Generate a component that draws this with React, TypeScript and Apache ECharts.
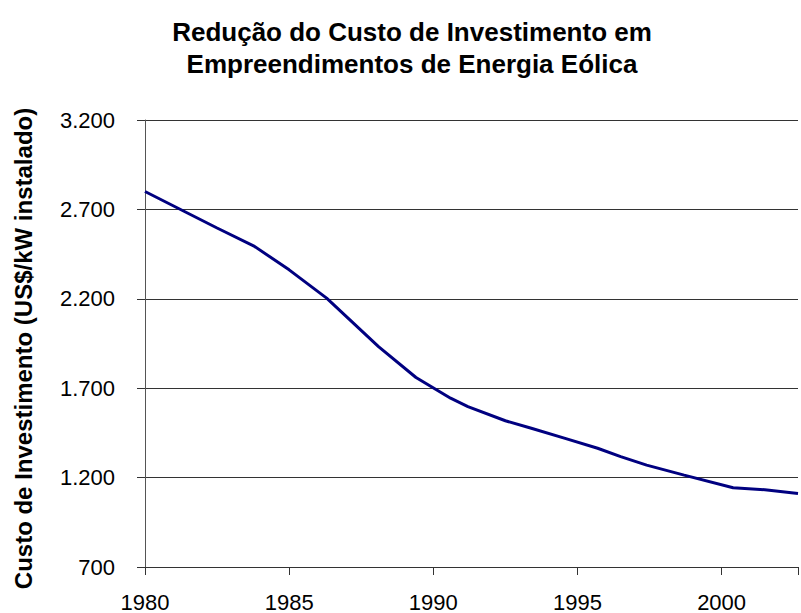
import React, { useEffect, useRef } from "react";
import * as echarts from "echarts";

const years = [1980, 1982.5, 1983.8, 1985, 1986.3, 1988.1, 1989.4, 1990.6, 1991.2, 1992.5, 1993.4, 1994.6, 1995.7, 1996.5, 1997.4, 1998.7, 2000.4, 2001.5, 2002.65];
const costs = [2800, 2596, 2493, 2362, 2204, 1933, 1760, 1644, 1597, 1518, 1476, 1418, 1364, 1317, 1270, 1214, 1143, 1132, 1111];
const yTicks = { min: 700, max: 3200, interval: 500 };
const xRange = { min: 1980, max: 2002.65, interval: 5 };
const titleText = "Redução do Custo de Investimento em\nEmpreendimentos de Energia Eólica";
const yAxisName = "Custo de Investimento (US$/kW instalado)";

const fmtThousands = (v: number) => {
  const s = String(Math.round(v));
  return s.replace(/\B(?=(\d{3})+(?!\d))/g, ".");
};

const FONT = "Liberation Sans, Arial, sans-serif";

export default function App() {
  const ref = useRef<HTMLDivElement>(null);
  useEffect(() => {
    if (!ref.current) return;
    const chart = echarts.init(ref.current, undefined, { renderer: "svg" });
    chart.setOption({
      animation: false,
      backgroundColor: "#fff",
      title: {
        text: titleText,
        left: 407,
        top: 11,
        textAlign: "center",
        textStyle: {
          fontFamily: FONT,
          fontWeight: "bold",
          fontSize: 26,
          lineHeight: 32,
          color: "#000",
        },
      },
      grid: { left: 145, right: 0, top: 120, bottom: 46, containLabel: false },
      xAxis: {
        type: "value",
        min: xRange.min,
        max: xRange.max,
        interval: xRange.interval,
        axisLine: { show: true, lineStyle: { color: "#333", width: 1 } },
        axisTick: { show: true, length: 8, lineStyle: { color: "#333" } },
        splitLine: { show: false },
        axisLabel: {
          margin: 24,
          fontFamily: FONT,
          fontSize: 22,
          color: "#000",
          formatter: (v: number) => (Math.abs(v % 5) < 1e-6 ? String(v) : ""),
        },
      },
      yAxis: {
        type: "value",
        min: yTicks.min,
        max: yTicks.max,
        interval: yTicks.interval,
        name: yAxisName,
        nameLocation: "middle",
        nameRotate: 90,
        nameGap: 110,
        nameTextStyle: { fontFamily: FONT, fontWeight: "bold", fontSize: 24, color: "#000", padding: [0, 10, 0, 0] },
        axisLine: { show: true, lineStyle: { color: "#555", width: 1 } },
        axisTick: { show: true, length: 8, lineStyle: { color: "#333" } },
        splitLine: { show: true, lineStyle: { color: "#333", width: 1 } },
        axisLabel: {
          margin: 30,
          fontFamily: FONT,
          fontSize: 22,
          color: "#000",
          formatter: (v: number) => fmtThousands(v),
        },
      },
      series: [
        {
          type: "line",
          data: years.map((y, i) => [y, costs[i]]),
          showSymbol: false,
          lineStyle: { color: "#000080", width: 3 },
          itemStyle: { color: "#000080" },
        },
      ],
    });
    return () => chart.dispose();
  }, []);
  return <div ref={ref} style={{ width: 801, height: 613, position: "absolute", left: 0, top: 0 }} />;
}
